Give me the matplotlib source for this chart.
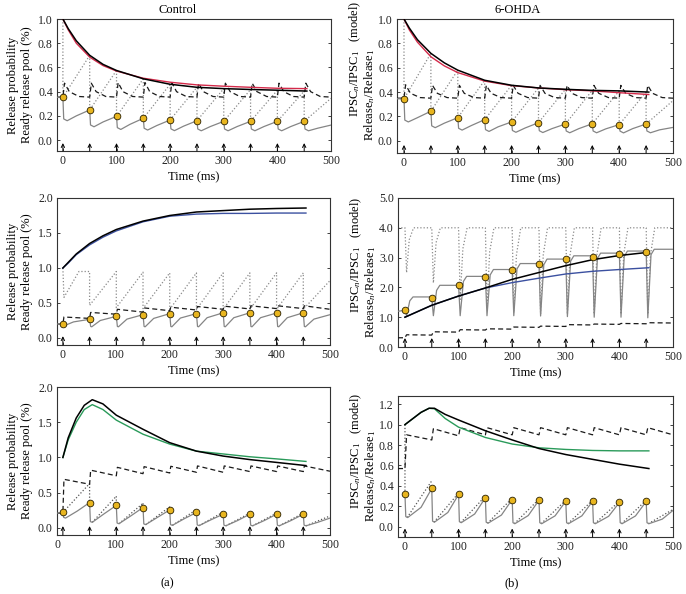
import matplotlib
matplotlib.use('Agg')
import matplotlib.pyplot as plt
import matplotlib.transforms as mtransforms
import numpy as np

plt.rcParams['font.family'] = ['Liberation Serif', 'DejaVu Serif']
plt.rcParams['mathtext.fontset'] = 'custom'
plt.rcParams['mathtext.rm'] = 'Liberation Serif'
plt.rcParams['mathtext.it'] = 'Liberation Serif:italic'

# pulse times (ms)
T = [0, 50, 100, 150, 200, 250, 300, 350, 400, 450]

# ---------------- (a) Control, top ----------------
a1_t = [0, 10, 25, 50, 75, 100, 150, 200, 250, 300, 350, 400, 455]
a1_black = [1.0, 0.92, 0.82, 0.70, 0.625, 0.575, 0.506, 0.461, 0.436, 0.425, 0.418, 0.412, 0.405]
a1_red = [1.0, 0.91, 0.80, 0.685, 0.615, 0.57, 0.511, 0.478, 0.456, 0.445, 0.436, 0.428, 0.425]
a1_peak = [1.0, 0.70, 0.575, 0.506, 0.461, 0.436, 0.425, 0.418, 0.412, 0.405]
a1_dots = [0.354, 0.249, 0.196, 0.18, 0.166, 0.16, 0.155, 0.155, 0.155, 0.155]
a1_trough = [0.16, 0.11, 0.088, 0.083, 0.078, 0.077, 0.077, 0.077, 0.077, 0.077]
a1_mid = [0.20, 0.15, 0.13, 0.12, 0.115, 0.112, 0.112, 0.112, 0.112, 0.098]
a1_gray_end = 0.124
a1_dash_base = [0.355, 0.355, 0.355, 0.355, 0.355, 0.355, 0.355, 0.355, 0.355, 0.355]
a1_dash_peak = [0.47, 0.47, 0.475, 0.475, 0.475, 0.47, 0.47, 0.47, 0.47, 0.47]
a1_dash_mid = [0.40, 0.40, 0.40, 0.40, 0.40, 0.40, 0.40, 0.40, 0.40, 0.40]
a1_dot_end = 0.345

# ---------------- (b) 6-OHDA, top ----------------
b1_t = [0, 10, 25, 50, 75, 100, 150, 200, 250, 300, 350, 400, 455]
b1_black = [1.0, 0.925, 0.83, 0.718, 0.64, 0.58, 0.497, 0.456, 0.434, 0.423, 0.414, 0.41, 0.40]
b1_red = [1.0, 0.91, 0.81, 0.69, 0.615, 0.56, 0.49, 0.453, 0.434, 0.42, 0.41, 0.395, 0.38]
b1_peak = [1.0, 0.718, 0.58, 0.497, 0.456, 0.434, 0.423, 0.414, 0.41, 0.40]
b1_dots = [0.345, 0.243, 0.19, 0.174, 0.155, 0.149, 0.138, 0.14, 0.133, 0.138]
b1_trough = [0.155, 0.108, 0.088, 0.077, 0.07, 0.068, 0.066, 0.066, 0.065, 0.066]
b1_mid = [0.19, 0.145, 0.125, 0.115, 0.105, 0.1, 0.1, 0.098, 0.1, 0.09]
b1_gray_end = 0.11
b1_dash_base = [0.35, 0.35, 0.35, 0.35, 0.35, 0.35, 0.35, 0.35, 0.35, 0.35]
b1_dash_peak = [0.46, 0.455, 0.455, 0.455, 0.455, 0.455, 0.455, 0.455, 0.455, 0.455]
b1_dash_mid = [0.39, 0.39, 0.39, 0.39, 0.39, 0.39, 0.39, 0.39, 0.39, 0.39]
b1_dot_end = 0.33

# ---------------- (a) Control, middle ----------------
a2_t = [0, 10, 25, 50, 75, 100, 150, 200, 250, 300, 350, 400, 455]
a2_black = [1.0, 1.08, 1.2, 1.35, 1.46, 1.55, 1.67, 1.75, 1.80, 1.82, 1.84, 1.85, 1.857]
a2_blue = [1.0, 1.07, 1.19, 1.33, 1.44, 1.53, 1.66, 1.74, 1.77, 1.78, 1.78, 1.785, 1.785]
a2_dots = [0.205, 0.267, 0.31, 0.333, 0.348, 0.348, 0.36, 0.36, 0.357, 0.36]
a2_trough = [0.18, 0.16, 0.16, 0.16, 0.16, 0.16, 0.16, 0.16, 0.16, 0.16]
a2_mid = [0.23, 0.25, 0.27, 0.28, 0.285, 0.29, 0.29, 0.29, 0.29, 0.27]
a2_gray_end = 0.333
a2_dash_peak = [0.30, 0.365, 0.41, 0.43, 0.44, 0.45, 0.455, 0.46, 0.46, 0.46]
a2_dash_end = [0.28, 0.34, 0.37, 0.39, 0.40, 0.41, 0.415, 0.42, 0.42, 0.41]
a2_dot_top = [1.0, 0.95, 0.95, 0.94, 0.93, 0.93, 0.93, 0.93, 0.93, 0.93]
a2_dot_low = [0.58, 0.467, 0.433, 0.42, 0.41, 0.41, 0.41, 0.41, 0.41, 0.41]
a2_dot_end = 0.82

# ---------------- (b) 6-OHDA, middle ----------------
b2_t = [0, 50, 100, 150, 200, 250, 300, 350, 400, 455]
b2_black = [1.0, 1.4, 1.71, 1.98, 2.27, 2.5, 2.73, 2.93, 3.07, 3.18]
b2_blue = [1.0, 1.4, 1.71, 1.98, 2.16, 2.31, 2.45, 2.54, 2.6, 2.66]
b2_dots = [1.23, 1.65, 2.07, 2.35, 2.58, 2.79, 2.94, 3.02, 3.13, 3.18]
b2_dip = [1.05, 1.05, 1.05, 1.05, 1.05, 1.04, 1.02, 1.0, 1.0, 0.98]
b2_knee = [1.55, 1.9, 2.2, 2.42, 2.62, 2.76, 2.88, 2.97, 3.04, 3.1]
b2_plateau = [1.68, 2.07, 2.37, 2.6, 2.8, 2.95, 3.06, 3.15, 3.22, 3.28]
b2_dot_dip = [2.5, 2.15, 1.6, 1.3, 1.15, 1.1, 1.1, 1.1, 1.1, 1.1]
b2_dot_knee = [3.6, 3.5, 3.3, 3.2, 3.1, 3.1, 3.1, 3.1, 3.1, 3.1]
b2_dash = [0.41, 0.51, 0.58, 0.61, 0.67, 0.70, 0.75, 0.77, 0.79, 0.815]

# ---------------- (a) Control, bottom ----------------
a3_t = [0, 10, 25, 40, 55, 75, 100, 150, 200, 250, 300, 350, 400, 455]
a3_black = [1.0, 1.28, 1.56, 1.74, 1.82, 1.76, 1.6, 1.40, 1.21, 1.09, 1.02, 0.97, 0.93, 0.885]
a3_green = [1.0, 1.25, 1.5, 1.68, 1.75, 1.68, 1.53, 1.33, 1.19, 1.09, 1.05, 1.01, 0.98, 0.944]
a3_dots = [0.22, 0.36, 0.32, 0.29, 0.256, 0.22, 0.195, 0.195, 0.195, 0.195]
a3_trough = [0.14, 0.08, 0.06, 0.047, 0.037, 0.033, 0.03, 0.03, 0.03, 0.03]
a3_mid = [0.24, 0.2, 0.17, 0.15, 0.13, 0.115, 0.105, 0.105, 0.105, 0.08]
a3_gray_end = 0.14
a3_dash_peak = [0.69, 0.82, 0.86, 0.87, 0.875, 0.88, 0.88, 0.88, 0.88, 0.88]
a3_dash_end = [0.62, 0.74, 0.77, 0.78, 0.79, 0.79, 0.80, 0.80, 0.80, 0.805]
a3_dot_top = [0.22, 0.63, 0.45, 0.35, 0.30, 0.26, 0.225, 0.21, 0.21, 0.21]
a3_dot_end = 0.17

# ---------------- (b) 6-OHDA, bottom ----------------
b3_t = [0, 15, 30, 45, 55, 75, 100, 150, 200, 250, 300, 350, 400, 455]
b3_black = [1.0, 1.06, 1.12, 1.16, 1.16, 1.10, 1.045, 0.94, 0.85, 0.766, 0.707, 0.66, 0.613, 0.57]
b3_green = [1.0, 1.06, 1.12, 1.16, 1.155, 1.06, 0.975, 0.874, 0.81, 0.773, 0.757, 0.747, 0.743, 0.743]
b3_dots = [0.316, 0.375, 0.316, 0.284, 0.267, 0.26, 0.25, 0.25, 0.238, 0.248]
b3_trough = [0.09, 0.045, 0.04, 0.035, 0.03, 0.03, 0.03, 0.03, 0.03, 0.03]
b3_mid = [0.19, 0.14, 0.125, 0.115, 0.11, 0.107, 0.107, 0.103, 0.106, 0.075]
b3_gray_end = 0.16
b3_dash_peak = [0.90, 0.96, 0.97, 0.97, 0.97, 0.97, 0.97, 0.97, 0.97, 0.97]
b3_dash_end = [0.85, 0.89, 0.90, 0.90, 0.90, 0.90, 0.90, 0.90, 0.90, 0.90]
b3_dot_top = [0.32, 0.45, 0.33, 0.30, 0.28, 0.27, 0.26, 0.26, 0.25, 0.26]
b3_dot_end = 0.17

GRAY = '#858585'
DOTC = '#8a8a8a'
FS = 8.5

fig = plt.figure(figsize=(6.86, 5.94), dpi=100)


def make_ax(rect, xmin, ylim, yticks, ylabels):
    ax = fig.add_axes(rect)
    ax.set_xlim(xmin, 500)
    ax.set_ylim(*ylim)
    ax.set_xticks([0, 100, 200, 300, 400, 500])
    ax.set_yticks(yticks)
    ax.set_yticklabels(ylabels)
    ax.tick_params(direction='in', length=2.5, width=0.6, labelsize=FS,
                   right=True, pad=3, colors='#222')
    for s in ax.spines.values():
        s.set_linewidth(0.8)
        s.set_color('#333')
    ax.set_xlabel('Time (ms)', fontsize=FS + 0.5, labelpad=3)
    # stimulus arrows
    trans = mtransforms.blended_transform_factory(ax.transData, ax.transAxes)
    for t in T:
        ax.annotate('', xy=(t, 0.06), xytext=(t, 0.0), xycoords=trans, textcoords=trans,
                    arrowprops=dict(arrowstyle='->', lw=0.7, color='k', mutation_scale=6,
                                    shrinkA=0, shrinkB=0))
    return ax


def gray_trace(ax, xmin, start, dots, trough, mid, end, knee_t=1.5, drop_t=8, mid_t=25, knee_dy=0.015):
    xs = [xmin, T[0]]
    ys = [start, dots[0]]
    for i, t in enumerate(T):
        nxt = dots[i + 1] if i + 1 < len(T) else end
        xs += [t, t + knee_t, t + drop_t, t + mid_t, t + 50]
        ys += [dots[i], trough[i] + knee_dy, trough[i], mid[i], nxt]
    ax.plot(xs, ys, color=GRAY, lw=0.9, zorder=3)


def dots_plot(ax, dots):
    ax.plot(T, dots, ls='none', marker='o', ms=4.8, mfc='#e8b51f', mec='#2a2000', mew=0.6, zorder=6)


def top_panel(ax, xmin, t, black, red, peak, dots, trough, mid, gray_end, dbase, dpeak, dmid, dot_end):
    # dotted traces
    xs, ys = [], []
    for i, tt in enumerate(T):
        nxt = peak[i + 1] if i + 1 < len(T) else dot_end
        xs += [tt, tt, tt + 50, np.nan]
        ys += [peak[i], dots[i], nxt, np.nan]
    ax.plot(xs, ys, color=DOTC, ls=(0, (1, 1.6)), lw=0.9, zorder=2)
    # dashed
    xs = [xmin, 0]
    ys = [dbase[0], dbase[0]]
    for i, tt in enumerate(T):
        xs += [tt, tt + 3, tt + 12, tt + 30, tt + 50]
        ys += [dbase[i], dpeak[i], dmid[i], dbase[i] + 0.005, dbase[i]]
    ax.plot(xs, ys, color='#1a1a1a', ls=(0, (4, 2.5)), lw=0.9, zorder=3)
    gray_trace(ax, xmin, dots[0], dots, trough, mid, gray_end)
    ax.plot(t, red, color='#d42a4a', lw=1.0, zorder=4)
    ax.plot(t, black, color='k', lw=1.1, zorder=5)
    dots_plot(ax, dots)


# ---------------- axes ----------------
W, H = 686, 594


def rect(l, r, t, b):
    return [l / W, 1 - b / H, (r - l) / W, (b - t) / H]


ax1 = make_ax(rect(57, 331, 19, 151), -11, (-0.09, 1.0), np.arange(0, 1.01, 0.2),
              ['0.0', '0.2', '0.4', '0.6', '0.8', '1.0'])
ax2 = make_ax(rect(397, 673, 19, 153), -13, (-0.1, 1.0), np.arange(0, 1.01, 0.2),
              ['0.0', '0.2', '0.4', '0.6', '0.8', '1.0'])
ax3 = make_ax(rect(57, 330, 198, 345), -11, (-0.1, 2.0), [0, 0.5, 1.0, 1.5, 2.0],
              ['0.0', '0.5', '1.0', '1.5', '2.0'])
ax4 = make_ax(rect(398, 673, 198, 347), -13, (0, 5.0), [0, 1, 2, 3, 4, 5],
              ['0.0', '1.0', '2.0', '3.0', '4.0', '5.0'])
ax5 = make_ax(rect(57, 330, 387, 535), -11, (-0.1, 2.0), [0, 0.5, 1.0, 1.5, 2.0],
              ['0.0', '0.5', '1.0', '1.5', '2.0'])
ax6 = make_ax(rect(398, 673, 396, 537), -13, (-0.1, 1.28), np.arange(0, 1.21, 0.2),
              ['0.0', '0.2', '0.4', '0.6', '0.8', '1.0', '1.2'])
ax5.set_xticks([-11, 100, 200, 300, 400, 500])
ax5.set_xticklabels(['0', '100', '200', '300', '400', '500'])

# top row
top_panel(ax1, -11, a1_t, a1_black, a1_red, a1_peak, a1_dots, a1_trough, a1_mid, a1_gray_end,
          a1_dash_base, a1_dash_peak, a1_dash_mid, a1_dot_end)
top_panel(ax2, -13, b1_t, b1_black, b1_red, b1_peak, b1_dots, b1_trough, b1_mid, b1_gray_end,
          b1_dash_base, b1_dash_peak, b1_dash_mid, b1_dot_end)

# middle left
xs, ys = [0], [a2_dot_top[0]]
for i, tt in enumerate(T):
    nxt = a2_dot_top[i + 1] if i + 1 < len(T) else a2_dot_end
    if i == 0:
        xs += [tt + 2, tt + 30, tt + 50]
        ys += [a2_dot_low[i], nxt, nxt]
    else:
        xs += [tt, tt + 50]
        ys += [a2_dot_low[i], nxt]
ax3.plot(xs, ys, color=DOTC, ls=(0, (1, 1.6)), lw=0.9, zorder=2)
xs, ys = [-11, 0], [0.2, 0.2]
for i, tt in enumerate(T):
    xs += [tt + 2, tt + 50]
    ys += [a2_dash_peak[i], a2_dash_end[i]]
ax3.plot(xs, ys, color='#1a1a1a', ls=(0, (4, 2.5)), lw=0.9, zorder=3)
gray_trace(ax3, -11, 0.2, a2_dots, a2_trough, a2_mid, a2_gray_end, knee_t=2, drop_t=4,
           mid_t=20, knee_dy=0.005)
ax3.plot(a2_t, a2_blue, color='#3b50a0', lw=1.0, zorder=4)
ax3.plot(a2_t, a2_black, color='k', lw=1.1, zorder=5)
dots_plot(ax3, a2_dots)

# middle right
xs, ys = [-13], [4.0]
for i, tt in enumerate(T):
    xs += [tt, tt + 3, tt + 8, tt + 16, tt + 50]
    ys += [4.0, b2_dot_dip[i], b2_dot_knee[i], 4.0, 4.0]
ax4.plot(xs, ys, color=DOTC, ls=(0, (1, 1.6)), lw=0.9, zorder=2)
xs, ys = [-13, 0], [0.31, 0.31]
for i, tt in enumerate(T):
    xs += [tt + 3, tt + 50]
    ys += [b2_dash[i], b2_dash[i] - 0.01]
ax4.plot(xs, ys, color='#1a1a1a', ls=(0, (4, 2.5)), lw=0.9, zorder=3)
xs, ys = [-13, 0], [1.2, b2_dots[0]]
for i, tt in enumerate(T):
    xs += [tt, tt + 3, tt + 9, tt + 15, tt + 50]
    ys += [b2_dots[i], b2_dip[i], b2_knee[i], b2_plateau[i], b2_plateau[i]]
ax4.plot(xs, ys, color=GRAY, lw=0.9, zorder=3)
ax4.plot(b2_t, b2_blue, color='#3b50a0', lw=1.0, zorder=4)
ax4.plot(b2_t, b2_black, color='k', lw=1.1, zorder=5)
dots_plot(ax4, b2_dots)

# bottom left
xs, ys = [], []
for i, tt in enumerate(T):
    nxt = a3_dot_top[i + 1] if i + 1 < len(T) else a3_dot_end
    start = a3_dots[0] if i == 0 else a3_trough[i]
    xs += [tt, tt, np.nan, tt + (0 if i == 0 else 5), tt + 50, np.nan]
    ys += [a3_dot_top[i], a3_dots[i], np.nan, start, nxt, np.nan]
ax5.plot(xs, ys, color='#555', ls=(0, (1, 1.6)), lw=0.9, zorder=2)
xs, ys = [-11, 0], [0.21, 0.21]
for i, tt in enumerate(T):
    xs += [tt + 2, tt + 50]
    ys += [a3_dash_peak[i], a3_dash_end[i]]
ax5.plot(xs, ys, color='#1a1a1a', ls=(0, (4, 2.5)), lw=0.9, zorder=3)
gray_trace(ax5, -11, 0.21, a3_dots, a3_trough, a3_mid, a3_gray_end, knee_t=1.5, drop_t=5,
           mid_t=27, knee_dy=0.01)
ax5.plot(a3_t, a3_green, color='#2a9a5a', lw=1.0, zorder=4)
ax5.plot(a3_t, a3_black, color='k', lw=1.1, zorder=5)
dots_plot(ax5, a3_dots)

# bottom right
xs, ys = [0, 0, np.nan], [1.0, b3_dots[0], np.nan]
for i, tt in enumerate(T):
    nxt = b3_dot_top[i + 1] if i + 1 < len(T) else b3_dot_end
    xs += [tt + 4, tt + 50, np.nan]
    ys += [b3_trough[i], nxt, np.nan]
ax6.plot(xs, ys, color='#555', ls=(0, (1, 1.6)), lw=0.9, zorder=2)
xs, ys = [-13, 0], [0.57, 0.57]
for i, tt in enumerate(T):
    xs += [tt + 3, tt + 50]
    ys += [b3_dash_peak[i], b3_dash_end[i]]
ax6.plot(xs, ys, color='#1a1a1a', ls=(0, (4, 2.5)), lw=0.9, zorder=3)
gray_trace(ax6, 0, b3_dots[0], b3_dots, b3_trough, b3_mid, b3_gray_end, knee_t=1.5, drop_t=5,
           mid_t=30, knee_dy=0.01)
ax6.plot(b3_t, b3_green, color='#2a9a5a', lw=1.0, zorder=4)
ax6.plot(b3_t, b3_black, color='k', lw=1.1, zorder=5)
dots_plot(ax6, b3_dots)

# y labels
left_label = 'Release probability\nReady release pool (%)'
for ax, h in [(ax1, 274), (ax3, 273), (ax5, 273)]:
    ax.text(-37 / h, 0.5, left_label, transform=ax.transAxes, rotation=90,
            ha='center', va='center', fontsize=FS + 0.5, linespacing=1.25)

# right column labels: (axes, first-line centre, second-line centre) in axes fraction
right_pos = [(ax2, 0.70, 0.43), (ax4, 0.62, 0.37), (ax6, 0.61, 0.43)]
for ax, f_ipsc, f_rel in right_pos:
    ax.text(-42 / 276, f_ipsc, r'IPSC$_n$/IPSC$_1$   (model)', transform=ax.transAxes,
            rotation=90, ha='center', va='center', fontsize=FS + 0.5)
    ax.text(-27 / 276, f_rel, r'Release$_n$/Release$_1$', transform=ax.transAxes, rotation=90,
            ha='center', va='center', fontsize=FS + 0.5)

fig.text(178 / W, 1 - 10 / H, 'Control', ha='center', va='center', fontsize=FS + 0.5)
fig.text(518 / W, 1 - 10 / H, '6-OHDA', ha='center', va='center', fontsize=FS + 0.5)
fig.text(167 / W, 1 - 583 / H, '(a)', ha='center', va='center', fontsize=FS + 0.5)
fig.text(512 / W, 1 - 583 / H, '(b)', ha='center', va='center', fontsize=FS + 0.5)

fig.savefig('out.png', dpi=100)
